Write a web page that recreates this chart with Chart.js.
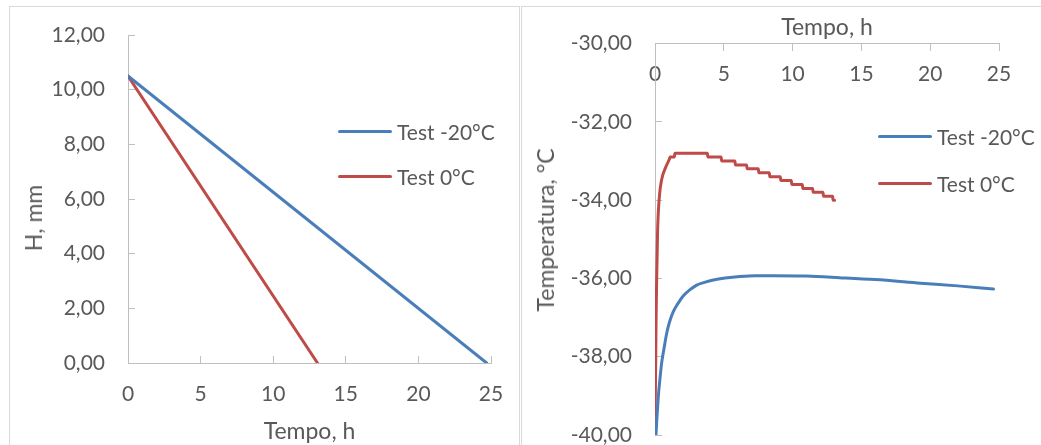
<!DOCTYPE html>
<html lang="pt">
<head>
<meta charset="utf-8">
<title>H e Temperatura x Tempo</title>
<script src="https://cdn.jsdelivr.net/npm/chart.js@4.4.1/dist/chart.umd.min.js"></script>
<style>
    html, body { margin: 0; padding: 0; background: #fff; overflow: hidden; }
    body { width: 1041px; height: 445px; position: relative; font-family: Lato, "Open Sans", sans-serif; color: #595959; }
    .moldura { position: absolute; border: 1px solid #d9d9d9; box-sizing: border-box; }
    .grafico { position: absolute; }
    .legenda { position: absolute; font-size: 21px; }
    .legenda .item { display: flex; align-items: center; height: 24px; }
    .legenda .linha { display: inline-block; width: 54px; height: 3px; border-radius: 2px; margin-right: 5px; }
    .titulo-y { position: absolute; font-size: 23px; white-space: nowrap; transform: translate(-50%, -50%) rotate(-90deg); }
</style>
</head>
<body>
<div class="moldura" style="left:9px; top:6px; width:511px; height:480px;"></div>
<div class="moldura" style="left:521px; top:6px; width:560px; height:480px;"></div>

<div class="grafico" style="left:10px; top:7px; width:508px; height:438px;"><canvas id="grafico_altura"></canvas></div>
<div class="grafico" style="left:522px; top:7px; width:519px; height:460px;"><canvas id="grafico_temperatura"></canvas></div>

<div class="titulo-y" style="left:33px; top:218px;">H, mm</div>
<div class="titulo-y" style="left:545px; top:230px;">Temperatura, °C</div>

<div class="legenda" id="legenda_altura" style="left:338px; top:119px;"></div>
<div class="legenda" id="legenda_temperatura" style="left:878px; top:124px;"></div>

<script>
// Serie "Test -20°C" e "Test 0°C" - altura H (mm) x tempo (h)
const tempoAltura20 = [0, 24.7];
const altura20 = [10.5, 0];
const tempoAltura0 = [0, 13.05];
const altura0 = [10.5, 0];

// temperatura (°C) x tempo (h)
const tempoTemp20 = [0.07, 0.15, 0.24, 0.35, 0.48, 0.65, 0.85, 1.05, 1.33, 1.65, 2.06, 2.5, 3.03, 3.6, 4.24, 5.1, 6.18, 7.3, 8.6, 11.0, 13.4, 16.0, 19.3, 22.0, 24.6];
const temp20 = [-40.0, -39.5, -39.02, -38.6, -38.17, -37.8, -37.4, -37.12, -36.85, -36.65, -36.44, -36.3, -36.17, -36.1, -36.04, -35.99, -35.95, -35.93, -35.93, -35.94, -35.98, -36.03, -36.12, -36.19, -36.27];

const tempoTemp0 = [0.0, 0.03, 0.05, 0.08, 0.12, 0.19, 0.32, 0.48, 0.8, 1.05,
    1.1, 1.4, 1.45, 3.8, 3.85, 4.8, 4.85, 5.8, 5.85, 6.65,
    6.7, 7.5, 7.55, 8.3, 8.35, 9.1, 9.15, 9.9, 9.95, 10.7,
    10.75, 11.45, 11.5, 12.2, 12.25, 12.9, 12.95, 13.05];
const temp0 = [-39.7, -38.8, -38.17, -37.0, -36.04, -34.76, -33.9, -33.48, -33.14, -32.95,
    -32.9, -32.9, -32.8, -32.8, -32.9, -32.9, -33.0, -33.0, -33.1, -33.1,
    -33.2, -33.2, -33.3, -33.3, -33.4, -33.4, -33.5, -33.5, -33.6, -33.6,
    -33.7, -33.7, -33.8, -33.8, -33.9, -33.9, -34.0, -34.0];

const nomesSeries = ['Test -20°C', 'Test 0°C'];

document.addEventListener("DOMContentLoaded", function () {
    const fonte = 'Lato, "Open Sans", sans-serif';
    const corTexto = '#595959';
    const corEixo = '#bfbfbf';
    const cores = ['#4a7ebb', '#be4b48'];

    function pares(xs, ys) {
        return xs.map((x, i) => ({ x: x, y: ys[i] }));
    }

    function virgula(valor) {
        return valor.toFixed(2).replace('.', ',');
    }

    // tira o "padding" automatico dos rotulos, senao a area do grafico encolhe
    function semPadding(escala) {
        escala.paddingTop = 0;
        escala.paddingBottom = 0;
        escala.paddingLeft = 0;
        escala.paddingRight = 0;
    }

    function serie(label, data, cor) {
        return {
            label: label,
            data: data,
            borderColor: cor,
            backgroundColor: cor,
            borderWidth: 3,
            borderCapStyle: 'round',
            pointRadius: 0,
            cubicInterpolationMode: 'monotone'
        };
    }

    function criarLegendaPersonalizada(containerId, labels, cores, espaco) {
        const container = document.getElementById(containerId);
        if (!container) return;
        container.innerHTML = labels.map((label, index) => `
            <div class="item" style="margin-bottom: ${espaco}px;">
                <span class="linha" style="background-color: ${cores[index]};"></span>
                <span>${label}</span>
            </div>
        `).join('');
    }

    const eixoBase = {
        grid: { drawOnChartArea: false, drawTicks: true, tickLength: -7, tickColor: corEixo },
        border: { color: corEixo, width: 1 }
    };

    // grafico da esquerda: H x tempo
    new Chart(document.getElementById('grafico_altura').getContext('2d'), {
        type: 'line',
        data: {
            datasets: [
                serie(nomesSeries[0], pares(tempoAltura20, altura20), cores[0]),
                serie(nomesSeries[1], pares(tempoAltura0, altura0), cores[1])
            ]
        },
        options: {
            responsive: true,
            maintainAspectRatio: false,
            animation: false,
            layout: { padding: { top: 28, right: 27, left: 0, bottom: 0 } },
            plugins: { legend: { display: false }, tooltip: { enabled: false } },
            scales: {
                x: {
                    ...eixoBase,
                    type: 'linear',
                    position: 'bottom',
                    min: 0, max: 25,
                    ticks: { stepSize: 5, color: corTexto, font: { family: fonte, size: 21 }, padding: 26 },
                    title: { display: true, text: 'Tempo, h', color: corTexto, font: { family: fonte, size: 23 }, padding: { top: 0, bottom: 0 } },
                    afterFit: function (escala) { escala.height = 82; semPadding(escala); }
                },
                y: {
                    ...eixoBase,
                    min: 0, max: 12,
                    ticks: { stepSize: 2, color: corTexto, font: { family: fonte, size: 21 }, padding: 30, callback: virgula },
                    afterFit: function (escala) { escala.width = 118; semPadding(escala); }
                }
            }
        }
    });

    // grafico da direita: temperatura x tempo (eixo x no topo)
    new Chart(document.getElementById('grafico_temperatura').getContext('2d'), {
        type: 'line',
        data: {
            datasets: [
                serie(nomesSeries[0], pares(tempoTemp20, temp20), cores[0]),
                serie(nomesSeries[1], pares(tempoTemp0, temp0), cores[1])
            ]
        },
        options: {
            responsive: true,
            maintainAspectRatio: false,
            animation: false,
            layout: { padding: { top: 0, right: 42, left: 0, bottom: 32 } },
            plugins: {
                legend: { display: false },
                tooltip: { enabled: false },
                title: {
                    display: true,
                    text: 'Tempo, h',
                    fullSize: false,
                    color: corTexto,
                    font: { family: fonte, size: 23, weight: 'normal' },
                    padding: { top: 7, bottom: 2 }
                }
            },
            scales: {
                x: {
                    type: 'linear',
                    position: { y: -30 },
                    min: 0, max: 25,
                    grid: { drawOnChartArea: false, drawTicks: true, tickLength: 7, tickColor: corEixo },
                    border: { color: corEixo, width: 1 },
                    ticks: { stepSize: 5, color: corTexto, font: { family: fonte, size: 21 }, padding: 11 },
                    afterFit: semPadding
                },
                y: {
                    ...eixoBase,
                    min: -40, max: -30,
                    ticks: { stepSize: 2, color: corTexto, font: { family: fonte, size: 21 }, padding: 30, callback: virgula },
                    afterFit: function (escala) { escala.width = 133; semPadding(escala); }
                }
            }
        }
    });

    criarLegendaPersonalizada('legenda_altura', nomesSeries, cores, 21);
    criarLegendaPersonalizada('legenda_temperatura', nomesSeries, cores, 23);
});
</script>
</body>
</html>
